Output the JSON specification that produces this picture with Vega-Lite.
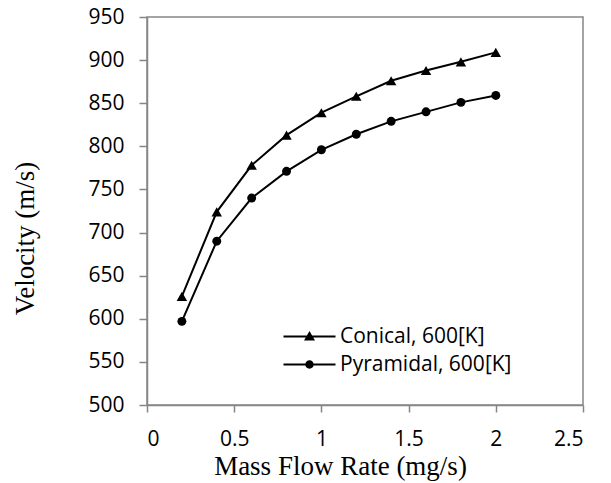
{
  "$schema": "https://vega.github.io/schema/vega-lite/v6.json",
  "width": 436,
  "height": 388,
  "autosize": "none",
  "padding": {"left": 147, "top": 17, "right": 28, "bottom": 78},
  "background": "white",
  "data": {
    "values": [
      {"rate": 0.2, "velocity": 626, "series": "Conical, 600[K]"},
      {"rate": 0.4, "velocity": 724, "series": "Conical, 600[K]"},
      {"rate": 0.6, "velocity": 778, "series": "Conical, 600[K]"},
      {"rate": 0.8, "velocity": 813, "series": "Conical, 600[K]"},
      {"rate": 1.0, "velocity": 839, "series": "Conical, 600[K]"},
      {"rate": 1.2, "velocity": 858, "series": "Conical, 600[K]"},
      {"rate": 1.4, "velocity": 876, "series": "Conical, 600[K]"},
      {"rate": 1.6, "velocity": 888, "series": "Conical, 600[K]"},
      {"rate": 1.8, "velocity": 898, "series": "Conical, 600[K]"},
      {"rate": 2.0, "velocity": 909, "series": "Conical, 600[K]"},
      {"rate": 0.2, "velocity": 597, "series": "Pyramidal, 600[K]"},
      {"rate": 0.4, "velocity": 690, "series": "Pyramidal, 600[K]"},
      {"rate": 0.6, "velocity": 740, "series": "Pyramidal, 600[K]"},
      {"rate": 0.8, "velocity": 771, "series": "Pyramidal, 600[K]"},
      {"rate": 1.0, "velocity": 796, "series": "Pyramidal, 600[K]"},
      {"rate": 1.2, "velocity": 814, "series": "Pyramidal, 600[K]"},
      {"rate": 1.4, "velocity": 829, "series": "Pyramidal, 600[K]"},
      {"rate": 1.6, "velocity": 840, "series": "Pyramidal, 600[K]"},
      {"rate": 1.8, "velocity": 851, "series": "Pyramidal, 600[K]"},
      {"rate": 2.0, "velocity": 859, "series": "Pyramidal, 600[K]"}
    ]
  },
  "encoding": {
    "x": {
      "field": "rate", "type": "quantitative",
      "scale": {"domain": [0, 2.5], "nice": false, "zero": false},
      "axis": {
        "title": "Mass Flow Rate (mg/s)",
        "values": [0, 0.5, 1, 1.5, 2, 2.5],
        "format": "~g",
        "labelPadding": 16, "tickSize": 7,
        "titleX": 193, "titleY": 61, "titleBaseline": "middle", "titleAlign": "center"
      }
    },
    "y": {
      "field": "velocity", "type": "quantitative",
      "scale": {"domain": [500, 950], "nice": false, "zero": false},
      "axis": {
        "title": "Velocity (m/s)",
        "values": [500, 550, 600, 650, 700, 750, 800, 850, 900, 950],
        "labelPadding": 15, "tickSize": 8,
        "titleX": -122, "titleY": 221, "titleBaseline": "middle", "titleAlign": "center", "titleAngle": -90
      }
    }
  },
  "layer": [
    {
      "mark": {"type": "line", "color": "black", "strokeWidth": 2},
      "encoding": {"detail": {"field": "series"}}
    },
    {
      "mark": {"type": "point", "filled": true, "color": "black", "opacity": 1},
      "encoding": {
        "shape": {
          "condition": {"test": "datum.series === 'Conical, 600[K]'", "value": "triangle-up"},
          "value": "circle"
        },
        "size": {
          "condition": {"test": "datum.series === 'Conical, 600[K]'", "value": 110},
          "value": 80
        }
      }
    },
    {
      "mark": {"type": "point", "filled": true, "color": "black", "opacity": 0},
      "encoding": {
        "shape": {
          "field": "series", "type": "nominal",
          "scale": {
            "domain": ["Conical, 600[K]", "Pyramidal, 600[K]"],
            "range": [
              "M-2.6,-0.1H2.6V0.1H-2.6ZM0,-0.55L0.55,0.4L-0.55,0.4Z",
              "M-2.6,-0.1H2.6V0.1H-2.6ZM0.42,0A0.42,0.42,0,1,1,-0.42,0A0.42,0.42,0,1,1,0.42,0Z"
            ]
          },
          "legend": {
            "title": null,
            "orient": "none",
            "legendX": 152,
            "legendY": 309,
            "padding": 0,
            "symbolSize": 400,
            "symbolStrokeWidth": 0,
            "symbolFillColor": "black",
            "symbolOpacity": 1,
            "rowPadding": 6,
            "labelOffset": 20,
            "labelFont": "Open Sans",
            "labelFontSize": 21,
            "labelColor": "black",
            "labelLimit": 400
          }
        }
      }
    }
  ],
  "config": {
    "view": {"stroke": "#868686", "strokeWidth": 1.5},
    "axis": {
      "grid": false,
      "domainColor": "#868686",
      "domainWidth": 1.5,
      "tickColor": "#868686",
      "tickWidth": 1.5,
      "labelFont": "Open Sans",
      "labelFontSize": 21,
      "labelColor": "black",
      "titleFont": "Liberation Serif",
      "titleFontSize": 27,
      "titleFontWeight": "normal",
      "titleColor": "black"
    }
  }
}
